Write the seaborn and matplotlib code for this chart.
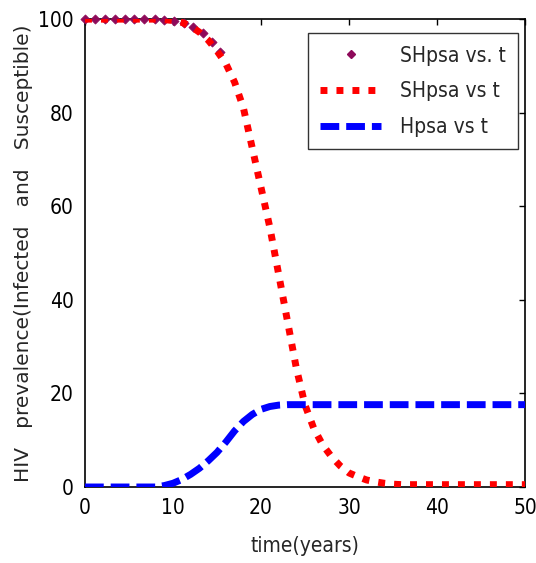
import numpy as np
import pandas as pd
import matplotlib
matplotlib.use("Agg")
import matplotlib.pyplot as plt
import seaborn as sns
from matplotlib.lines import Line2D

# ---- data ----
t = list(range(0, 51))
shpsa = [100, 100, 100, 100, 100, 100, 100, 100, 100, 99.9,
         99.7, 99.3, 98.5, 97.2, 95.5, 93.2, 90.5, 86.5, 81, 72.5,
         64, 55.5, 45.5, 35.5, 25.5, 17.5, 12.5, 9, 6.5, 4.5,
         3, 2.2, 1.5, 1.1, 0.8, 0.6, 0.5, 0.5, 0.5, 0.5,
         0.5, 0.5, 0.5, 0.5, 0.5, 0.5, 0.5, 0.5, 0.5, 0.5, 0.5]
hpsa = [0, 0, 0, 0, 0, 0, 0, 0, 0, 0.3,
        0.8, 1.6, 2.7, 4.0, 5.6, 7.4, 9.6, 12, 14, 15.5,
        16.6, 17.2, 17.5, 17.6, 17.6, 17.6, 17.6, 17.6, 17.6, 17.6,
        17.6, 17.6, 17.6, 17.6, 17.6, 17.6, 17.6, 17.6, 17.6, 17.6,
        17.6, 17.6, 17.6, 17.6, 17.6, 17.6, 17.6, 17.6, 17.6, 17.6, 17.6]
t_pts = [0, 1.1, 2.3, 3.4, 4.5, 5.6, 6.7, 7.9, 9.0, 10.1, 11.2, 12.3, 13.4, 14.4, 15.3]
sh_pts = [100, 100, 100, 100, 100, 100, 100, 100, 99.9, 99.7, 99.2, 98.4, 97.0, 95.2, 93.0]
labels = ["SHpsa vs. t", "SHpsa vs t", "Hpsa vs t"]
xticks = [0, 10, 20, 30, 40, 50]
yticks = [0, 20, 40, 60, 80, 100]

sns.set_style("white")
plt.rcParams['font.family'] = ['DejaVu Sans', 'Liberation Sans']
plt.rcParams['font.stretch'] = 'condensed'

fig = plt.figure(figsize=(5.36, 5.63), dpi=100)
ax = fig.add_axes([0.1586, 0.135, 0.821, 0.831])

df_line = pd.DataFrame({"t": t, "SH": shpsa, "H": hpsa})
df_pts = pd.DataFrame({"t": t_pts, "SH": sh_pts})

purple = "#8E0A5A"
red_dash = (1.0, 1.3)
blue_dash = (2.7, 1.0)
sns.scatterplot(data=df_pts, x="t", y="SH", ax=ax, color=purple, marker="D",
                s=22, edgecolor=purple, linewidth=0.5, zorder=3, clip_on=False)
sns.lineplot(data=df_line, x="t", y="SH", ax=ax, color="#FF0000", lw=5,
             zorder=4)
ax.lines[-1].set_dashes(red_dash)
sns.lineplot(data=df_line, x="t", y="H", ax=ax, color="#0000FF", lw=5, zorder=5)
ax.lines[-1].set_dashes(blue_dash)

ax.set_xlim(0, 50)
ax.set_ylim(0, 100)
ax.set_xticks(xticks)
ax.set_yticks(yticks)
ax.tick_params(direction="in", length=4, width=1, top=True, right=True,
               labelsize=15, colors="black")
ax.tick_params(axis="x", pad=8)
ax.tick_params(axis="y", pad=8)
for s in ax.spines.values():
    s.set_color("black")
    s.set_linewidth(1.2)
ax.set_xlabel("time(years)", fontsize=15, labelpad=13)
ax.set_ylabel("HIV   prevalence(Infected   and   Susceptible)", fontsize=14.5,
              fontstretch="normal", labelpad=4)

handles = [
    Line2D([], [], color=purple, marker="D", markersize=4, linestyle="None"),
    Line2D([], [], color="#FF0000", lw=5, dashes=red_dash),
    Line2D([], [], color="#0000FF", lw=5, dashes=blue_dash),
]
leg = ax.legend(handles, labels, loc="upper right", fontsize=15, frameon=True,
                fancybox=False, edgecolor="black", handlelength=2.9,
                handletextpad=0.9, labelspacing=0.75, borderpad=0.6,
                borderaxespad=0.0, bbox_to_anchor=(0.984, 0.970))
leg.get_frame().set_linewidth(1.0)

fig.savefig("out.png", dpi=100, facecolor="white")
